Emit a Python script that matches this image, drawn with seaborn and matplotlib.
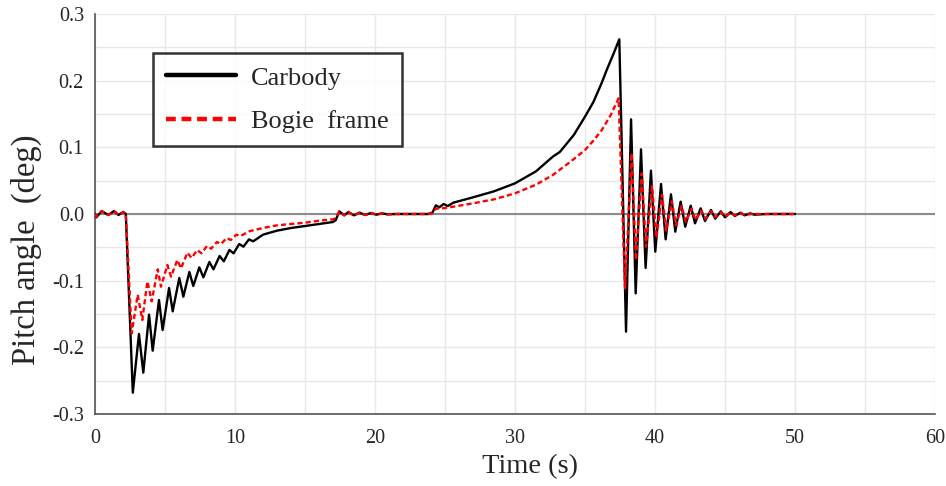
import numpy as np
import pandas as pd
import matplotlib
matplotlib.use("Agg")
import matplotlib.pyplot as plt
from matplotlib.ticker import MultipleLocator
import seaborn as sns

# ---- data ----
carbody_t = [0.0, 0.1, 0.48, 0.95, 1.36, 1.67, 2.02, 2.2, 2.7, 3.14, 3.45, 3.86, 4.12, 4.57, 4.83,
             5.29, 5.55, 6.02, 6.31, 6.74, 7.02, 7.45, 7.74, 8.17, 8.46, 8.9, 9.2, 9.6, 9.9,
             10.3, 10.6, 11.0, 11.3, 12.0, 13.0, 14.0, 15.0, 16.0, 17.0, 17.2, 17.45, 17.8,
             18.1, 18.5, 18.9, 19.3, 19.7, 20.1, 20.5, 20.9, 21.5, 23.8, 24.1, 24.35, 24.6,
             24.9, 25.2, 25.6, 27.0, 28.5, 30.0, 31.5, 32.7, 33.2, 34.2, 35.0, 35.6, 36.2,
             36.55, 37.0, 37.45,
             37.93, 38.29, 38.62, 39.0, 39.33, 39.71, 40.02, 40.43, 40.76, 41.14, 41.45, 41.83,
             42.16, 42.55, 42.86, 43.26, 43.57, 44.0, 44.3, 44.7, 45.0, 45.4, 45.7, 46.1, 46.4,
             46.8, 47.1, 48.0, 50.0]
carbody_y = [0.0, -0.005, 0.0045, -0.0015, 0.0045, -0.0015, 0.003, 0.0, -0.268, -0.18, -0.238,
             -0.151, -0.205, -0.129, -0.174, -0.111, -0.146, -0.096, -0.124, -0.087, -0.108,
             -0.08, -0.095, -0.072, -0.083, -0.063, -0.071, -0.054, -0.059, -0.045, -0.049,
             -0.038, -0.041, -0.031, -0.025, -0.021, -0.018, -0.015, -0.012, -0.009, 0.004,
             -0.002, 0.003, -0.002, 0.002, -0.0015, 0.0015, -0.001, 0.001, -0.0005, 0.0, 0.0,
             0.002, 0.013, 0.01, 0.015, 0.012, 0.017, 0.025, 0.034, 0.046, 0.064, 0.086, 0.093,
             0.1185, 0.146, 0.168, 0.197, 0.216, 0.2385, 0.262,
             -0.1765, 0.142, -0.119, 0.097, -0.081, 0.065, -0.0565,
             0.045, -0.038, 0.0295, -0.0265, 0.0185, -0.019, 0.0125, -0.014, 0.0085, -0.0105,
             0.006, -0.007, 0.004, -0.005, 0.003, -0.003, 0.002, -0.002, 0.001, -0.001, 0.0, 0.0]

bogie_t = [0.0, 0.1, 0.48, 0.95, 1.36, 1.67, 2.02, 2.2, 2.62, 3.05, 3.38, 3.74, 4.05, 4.48, 4.71,
           5.17, 5.43, 5.88, 6.14, 6.6, 6.9, 7.3, 7.6, 8.0, 8.3, 8.7, 9.0, 9.4, 9.7, 10.1, 10.4,
           11.0, 12.0, 13.0, 14.0, 15.0, 16.0, 17.0, 17.2, 17.45, 17.8, 18.1, 18.5, 18.9, 19.3,
           19.7, 20.1, 20.5, 20.9, 21.5, 23.8, 24.1, 24.35, 24.6, 25.0, 25.6, 27.0, 28.5, 30.0,
           31.5, 32.7, 34.0, 35.0, 35.6, 36.2, 36.8, 37.4, 37.86, 38.33, 38.64, 39.05, 39.36, 39.79,
           40.1, 40.5, 40.8, 41.2, 41.5, 41.9, 42.2, 42.6, 42.9, 43.3, 43.6, 44.0, 44.3, 44.7,
           45.0, 45.4, 45.7, 46.1, 46.4, 47.0, 50.0]
bogie_y = [0.0, -0.004, 0.004, -0.0015, 0.004, -0.0015, 0.003, 0.0, -0.179, -0.121, -0.159,
           -0.101, -0.131, -0.083, -0.109, -0.0765, -0.094, -0.069, -0.0815, -0.058, -0.066,
           -0.054, -0.059, -0.048, -0.052, -0.042, -0.045, -0.036, -0.039, -0.031, -0.033,
           -0.026, -0.021, -0.017, -0.015, -0.013, -0.010, -0.008, -0.006, 0.004, -0.002,
           0.003, -0.002, 0.002, -0.0015, 0.0015, -0.001, 0.001, -0.0005, 0.0, 0.0, 0.001,
           0.008, 0.008, 0.009, 0.011, 0.016, 0.022, 0.031, 0.044, 0.0585, 0.079, 0.096,
           0.11, 0.126, 0.147, 0.1735, -0.1115, 0.091, -0.069, 0.061, -0.049, 0.042, -0.036, 0.029,
           -0.025, 0.019, -0.017, 0.012, -0.012, 0.008, -0.009, 0.005, -0.007, 0.004, -0.005,
           0.003, -0.004, 0.002, -0.002, 0.001, -0.001, 0.0, 0.0]

series_names = ["Carbody", "Bogie frame"]
x_ticks = [0, 10, 20, 30, 40, 50, 60]
y_ticks = [-0.3, -0.2, -0.1, 0.0, 0.1, 0.2, 0.3]
y_ticklabels = ["-0.3", "-0.2", "-0.1", "0.0", "0.1", "0.2", "0.3"]

df = pd.concat([
    pd.DataFrame({"Time": carbody_t, "Pitch": carbody_y, "Series": series_names[0]}),
    pd.DataFrame({"Time": bogie_t, "Pitch": bogie_y, "Series": series_names[1]}),
], ignore_index=True)

sns.set_style("white")
plt.rcParams["font.family"] = ["Liberation Serif", "DejaVu Serif"]

fig = plt.figure(figsize=(9.46, 4.86), dpi=100)
ax = fig.add_axes([95 / 946, 72 / 486, 840 / 946, 400 / 486])

# grid
ax.xaxis.set_major_locator(MultipleLocator(10))
ax.xaxis.set_minor_locator(MultipleLocator(5))
ax.yaxis.set_major_locator(MultipleLocator(0.1))
ax.yaxis.set_minor_locator(MultipleLocator(0.05))
ax.grid(True, which="both", color="#e8e8e8", linewidth=1.0, zorder=0)
ax.set_axisbelow(True)
ax.axhline(0, color="#8c8c8c", linewidth=1.5, zorder=1)

sns.lineplot(data=df, x="Time", y="Pitch", hue="Series", style="Series",
             palette={"Carbody": "black", "Bogie frame": "#ff0000"},
             dashes={"Carbody": "", "Bogie frame": (2.2, 1.3)},
             estimator=None, sort=False, linewidth=1.7, ax=ax, zorder=3)

ax.set_xlim(0, 60)
ax.set_ylim(-0.3, 0.3)
ax.set_xticks(x_ticks)
ax.set_yticks(y_ticks)
ax.set_yticklabels(y_ticklabels)
ax.tick_params(axis="both", which="major", labelsize=14.5, length=4, width=0.8,
               direction="out", color="#555555")
ax.tick_params(axis="x", which="major", pad=7)
ax.tick_params(axis="y", which="major", pad=4)
ax.tick_params(axis="both", which="minor", length=3, width=0.8, direction="out",
               color="#555555")

for s in ["top", "right"]:
    ax.spines[s].set_visible(False)
for s in ["left", "bottom"]:
    ax.spines[s].set_color("#555555")
    ax.spines[s].set_linewidth(1.2)

ax.set_xlabel("Time (s)", fontsize=20.5)
ax.xaxis.set_label_coords(0.518, -0.1)
ax.set_ylabel("Pitch angle  (deg)", fontsize=23.5)
ax.yaxis.set_label_coords(-0.063, 0.41)

leg = ax.legend(loc="upper left", bbox_to_anchor=(0.069, 0.9025), borderaxespad=0,
                fontsize=19, frameon=True, fancybox=False, edgecolor="black",
                handlelength=2.65, handletextpad=0.57, borderpad=0.5, labelspacing=0.75)
leg.get_frame().set_linewidth(1.8)
for line in leg.get_lines():
    line.set_linewidth(3.2)
leg.get_texts()[1].set_text("Bogie  frame")

fig.savefig("out.png", dpi=100)
